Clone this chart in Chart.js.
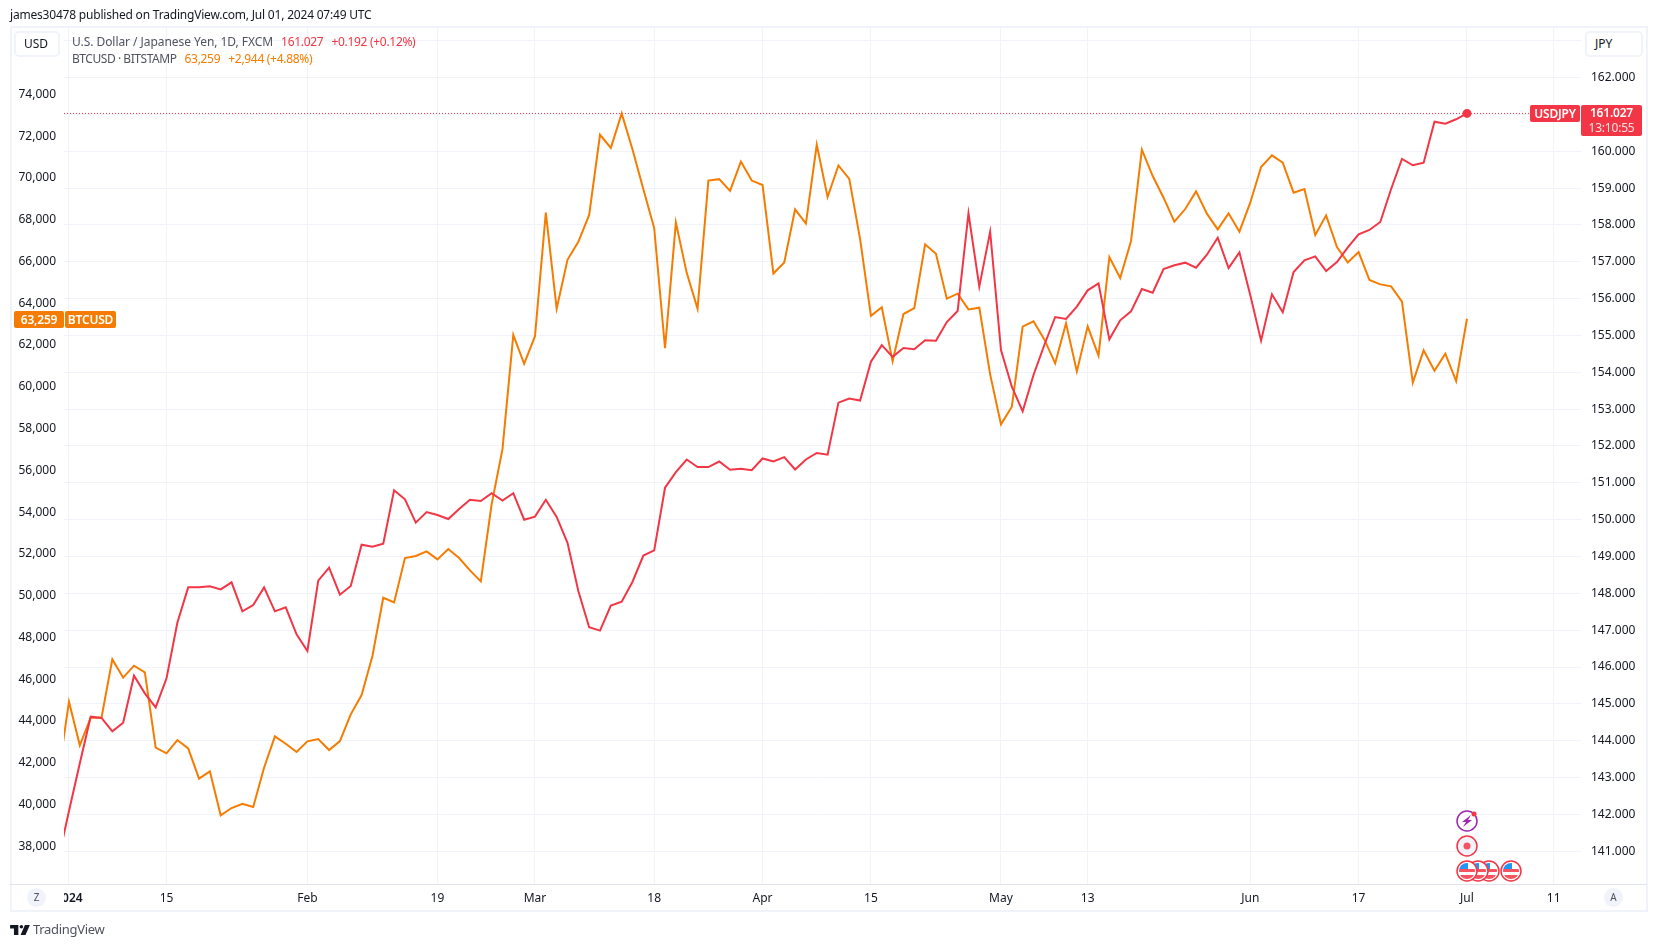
<!DOCTYPE html>
<html>
<head>
<meta charset="utf-8">
<title>USDJPY vs BTCUSD</title>
<script src="https://cdn.jsdelivr.net/npm/chart.js@4"></script>
<style>
  html, body { margin: 0; padding: 0; background: #fff; }
  body { width: 1657px; height: 947px; position: relative; overflow: hidden; font-family: 'Noto Sans', sans-serif; color: #131722; }
  canvas { position: absolute; left: 0; top: 0; }
  .abs { position: absolute; white-space: nowrap; }
  .frame { left: 10px; top: 26px; width: 1634px; height: 882px; border: 2px solid #f0f3fa; pointer-events: none; }
  .axis-line { left: 10px; top: 884px; width: 1637px; height: 1px; background: #e0e3eb; }
  .patch { left: 12px; top: 886px; width: 52px; height: 23px; background: #fff; }
  .title { left: 10px; top: 6px; font-size: 12px; line-height: 17px; letter-spacing: -0.2px; }
  .legend { left: 72px; font-size: 12px; line-height: 17px; color: #50535e; }
  .legend span { margin-left: 8px; letter-spacing: -0.3px; }
  .red { color: #f23645; }
  .orange { color: #f57c00; }
  .btn { top: 31px; height: 22px; line-height: 22px; padding-left: 8px; border: 2px solid #f0f3fa; border-radius: 5px; background: #fff; font-size: 12px; }
  .badge { color: #fff; font-size: 12px; font-weight: 600; letter-spacing: -0.2px; text-align: center; border-radius: 2px; }
  .round { width: 19px; height: 19px; line-height: 19px; border-radius: 50%; background: #f0f3fa; text-align: center; font-size: 10px; color: #50535e; top: 888px; }
  .brand { left: 33px; top: 919px; font-size: 13px; line-height: 20px; letter-spacing: -0.3px; color: #50535e; }
</style>
</head>
<body>
<canvas id="chart" width="1657" height="947"></canvas>

<div class="abs frame"></div>
<div class="abs axis-line"></div>
<div class="abs patch"></div>

<div class="abs title">james30478 published on TradingView.com, Jul 01, 2024 07:49 UTC</div>
<div class="abs legend" style="top:33px;letter-spacing:-0.05px">U.S. Dollar / Japanese Yen, 1D, FXCM<span class="red">161.027</span><span class="red">+0.192 (+0.12%)</span></div>
<div class="abs legend" style="top:50px;letter-spacing:-0.45px">BTCUSD · BITSTAMP<span class="orange">63,259</span><span class="orange">+2,944 (+4.88%)</span></div>

<div class="abs btn" style="left:14px;width:34px">USD</div>
<div class="abs btn" style="left:1585px;width:46px">JPY</div>

<div class="abs badge" style="left:1530px;top:105px;width:50px;height:17px;line-height:17px;background:#f23645">USDJPY</div>
<div class="abs badge" style="left:1581px;top:105px;width:61px;height:31px;line-height:15px;background:#f23645">161.027<br><span style="font-weight:400;opacity:.85">13:10:55</span></div>
<div class="abs badge" style="left:14px;top:311px;width:50px;height:17px;line-height:17px;background:#f57c00">63,259</div>
<div class="abs badge" style="left:65px;top:311px;width:51px;height:17px;line-height:17px;background:#f57c00">BTCUSD</div>

<div class="abs round" style="left:27px">Z</div>
<div class="abs round" style="left:1604px">A</div>

<svg class="abs" style="left:1450px;top:805px" width="80" height="80" viewBox="0 0 80 80">
  <defs>
    <clipPath id="flagClip"><circle cx="0" cy="0" r="8"/></clipPath>
    <g id="flag">
      <circle r="10" fill="#fff" stroke="#f23645" stroke-width="1.5"/>
      <g clip-path="url(#flagClip)">
        <rect x="-8" y="-8" width="16" height="16" fill="#fff"/>
        <rect x="-8" y="-2" width="16" height="3" fill="#f7525f"/>
        <rect x="-8" y="4" width="16" height="4" fill="#f7525f"/>
        <rect x="-8" y="-8" width="9" height="6" fill="#2196f3"/>
      </g>
    </g>
  </defs>
  <circle cx="17" cy="16" r="10" fill="#fff" stroke="#9c27b0" stroke-width="1.5"/>
  <path d="M21 10 L12 17 L16 17 L13 22 L22 15 L18 15 Z" fill="#9c27b0"/>
  <circle cx="24" cy="9" r="2.5" fill="#f23645"/>
  <circle cx="17" cy="41" r="10" fill="#f0f3fa" stroke="#f23645" stroke-width="1.5"/>
  <circle cx="17" cy="41" r="3.5" fill="#f7525f"/>
  <use href="#flag" x="61" y="66"/>
  <use href="#flag" x="39" y="66"/>
  <use href="#flag" x="28" y="66"/>
  <use href="#flag" x="17" y="66"/>
</svg>

<svg class="abs" style="left:10px;top:924px" width="20" height="11" viewBox="0 0 36 20">
  <path d="M15 2H0v6h7v12h8V2z" fill="#131722"/>
  <circle cx="20.5" cy="5" r="3.2" fill="#131722"/>
  <path d="M27 2h9l-8 18h-9l8-18z" fill="#131722"/>
</svg>
<div class="abs brand">TradingView</div>

<script>
// USDJPY daily closes, first entry is the bar just left of the visible range
const usdjpy = [
  140.762, 142.092, 143.386, 144.653, 144.617, 144.255, 144.490, 145.766, 145.286, 144.906,
  145.693, 147.204, 148.163, 148.163, 148.190, 148.109, 148.299, 147.512, 147.684, 148.163,
  147.512, 147.620, 146.888, 146.435, 148.344, 148.697, 147.964, 148.200, 149.321, 149.267,
  149.349, 150.796, 150.552, 149.919, 150.208, 150.127, 150.018, 150.290, 150.543, 150.507,
  150.718, 150.521, 150.718, 149.998, 150.082, 150.540, 150.073, 149.372, 148.063, 147.082,
  146.988, 147.671, 147.773, 148.315, 149.026, 149.166, 150.867, 151.288, 151.634, 151.428,
  151.428, 151.578, 151.353, 151.381, 151.344, 151.662, 151.578, 151.699, 151.363, 151.634,
  151.811, 151.765, 153.176, 153.288, 153.232, 154.288, 154.737, 154.419, 154.660, 154.624,
  154.868, 154.859, 155.366, 155.664, 158.315, 156.325, 157.818, 154.606, 153.610, 152.941,
  153.927, 154.741, 155.501, 155.447, 155.782, 156.225, 156.415, 154.895, 155.411, 155.655,
  156.261, 156.162, 156.804, 156.904, 156.976, 156.840, 157.193, 157.655, 156.831, 157.257,
  156.098, 154.859, 156.117, 155.628, 156.723, 157.039, 157.148, 156.750, 156.994, 157.392,
  157.746, 157.864, 158.081, 158.976, 159.791, 159.619, 159.691, 160.804, 160.750, 160.868,
  161.027
];

const btcusd = [
  41367, 44925, 42835, 44159, 44159, 46951, 46074, 46648, 46329, 42723,
  42452, 43090, 42691, 41239, 41590, 39484, 39835, 40042, 39882, 41765,
  43265, 42914, 42515, 43026, 43138, 42611, 43042, 44319, 45244, 47111,
  49903, 49680, 51802, 51898, 52122, 51739, 52233, 51802, 51212, 50685,
  54377, 57015, 62487, 61103, 62421, 68339, 63740, 66081, 66938, 68224,
  72065, 71438, 73087, 71356, 69460, 67597, 61844, 67861, 65454, 63740,
  69872, 69938, 69378, 70779, 69872, 69658, 65421, 65949, 68488, 67812,
  71586, 69081, 70597, 69955, 67070, 63394, 63806, 61218, 63483, 63770,
  66818, 66371, 64217, 64456, 63706, 63786, 60595, 58201, 59047, 62876,
  63132, 62270, 61121, 63036, 60738, 62892, 61488, 66211, 65206, 66977,
  71350, 70089, 69052, 67903, 68509, 69355, 68286, 67536, 68302, 67424,
  68812, 70520, 71078, 70727, 69291, 69467, 67265, 68206, 66690, 65956,
  66451, 65111, 64903, 64808, 64074, 60196, 61744, 60770, 61584, 60276,
  63259
];

// time axis, bar numbers counted from the 2024 label
const tickBars = [0, 9, 22, 34, 43, 54, 64, 74, 86, 94, 109, 119, 129, 137];
const tickLabels = ['2024', '15', 'Feb', '19', 'Mar', '18', 'Apr', '15', 'May', '13', 'Jun', '17', 'Jul', '11'];

// left axis labels, set by hand because stepSize gets snapped on this range
const usdTicks = [38000, 40000, 42000, 44000, 46000, 48000, 50000, 52000, 54000, 56000,
  58000, 60000, 62000, 64000, 66000, 68000, 70000, 72000, 74000];

const lastPrice = 161.027;

// visible window of the three scales
const barMin = -0.46, barMax = 139.52;
const jpyMin = 140.111, jpyMax = 163.373;
const usdMin = 36198, usdMax = 77223;

const RED = '#f23645';
const ORANGE = '#f57c00';
const GRID = '#f0f3fa';
const TEXT = '#131722';
const FONT = "'Noto Sans', sans-serif";

const toPoints = arr => arr.map((v, i) => ({ x: i - 1, y: v }));

new Chart(document.getElementById('chart'), {
  type: 'line',
  data: {
    datasets: [
      {
        label: 'Last price',
        data: [{ x: barMin, y: lastPrice }, { x: barMax, y: lastPrice }],
        yAxisID: 'yJpy',
        borderColor: RED,
        borderWidth: 1,
        borderDash: [1, 2],
        pointRadius: 0,
        order: 3
      },
      {
        label: 'BTCUSD',
        data: toPoints(btcusd),
        yAxisID: 'yUsd',
        borderColor: ORANGE,
        borderWidth: 2,
        tension: 0,
        pointRadius: 0,
        order: 2
      },
      {
        label: 'USDJPY',
        data: toPoints(usdjpy),
        yAxisID: 'yJpy',
        borderColor: RED,
        backgroundColor: RED,
        borderWidth: 2,
        tension: 0,
        // only the live bar gets a dot
        pointRadius: ctx => (ctx.dataIndex === usdjpy.length - 1 ? 3.5 : 0),
        order: 1
      }
    ]
  },
  options: {
    responsive: false,
    animation: false,
    devicePixelRatio: 1,
    layout: { padding: { left: 10, right: 10, top: 27, bottom: 36 } },
    plugins: { legend: { display: false }, tooltip: { enabled: false } },
    scales: {
      x: {
        type: 'linear',
        min: barMin,
        max: barMax,
        afterBuildTicks: scale => { scale.ticks = tickBars.map(v => ({ value: v })); },
        afterFit: scale => { scale.height = 27; },
        grid: { color: GRID, drawTicks: false },
        border: { display: false },
        ticks: {
          autoSkip: false,
          maxRotation: 0,
          padding: 7,
          color: TEXT,
          font: ctx => ({ family: FONT, size: 12, weight: ctx.index === 0 ? '600' : '400' }),
          callback: value => tickLabels[tickBars.indexOf(value)]
        }
      },
      yUsd: {
        type: 'linear',
        position: 'left',
        min: usdMin,
        max: usdMax,
        afterBuildTicks: scale => { scale.ticks = usdTicks.map(v => ({ value: v })); },
        afterFit: scale => { scale.width = 54; },
        grid: { display: false, drawTicks: false },
        border: { display: false },
        ticks: {
          autoSkip: false,
          padding: 8,
          color: TEXT,
          font: { family: FONT, size: 12 },
          callback: value => value.toLocaleString('en-US')
        }
      },
      yJpy: {
        type: 'linear',
        position: 'right',
        min: jpyMin,
        max: jpyMax,
        afterFit: scale => { scale.width = 66; },
        grid: { color: GRID, drawTicks: false },
        border: { display: false },
        ticks: {
          stepSize: 1,
          includeBounds: false,
          autoSkip: false,
          padding: 10,
          color: TEXT,
          font: { family: FONT, size: 12 },
          callback: value => value.toFixed(3)
        }
      }
    }
  }
});
</script>
</body>
</html>
